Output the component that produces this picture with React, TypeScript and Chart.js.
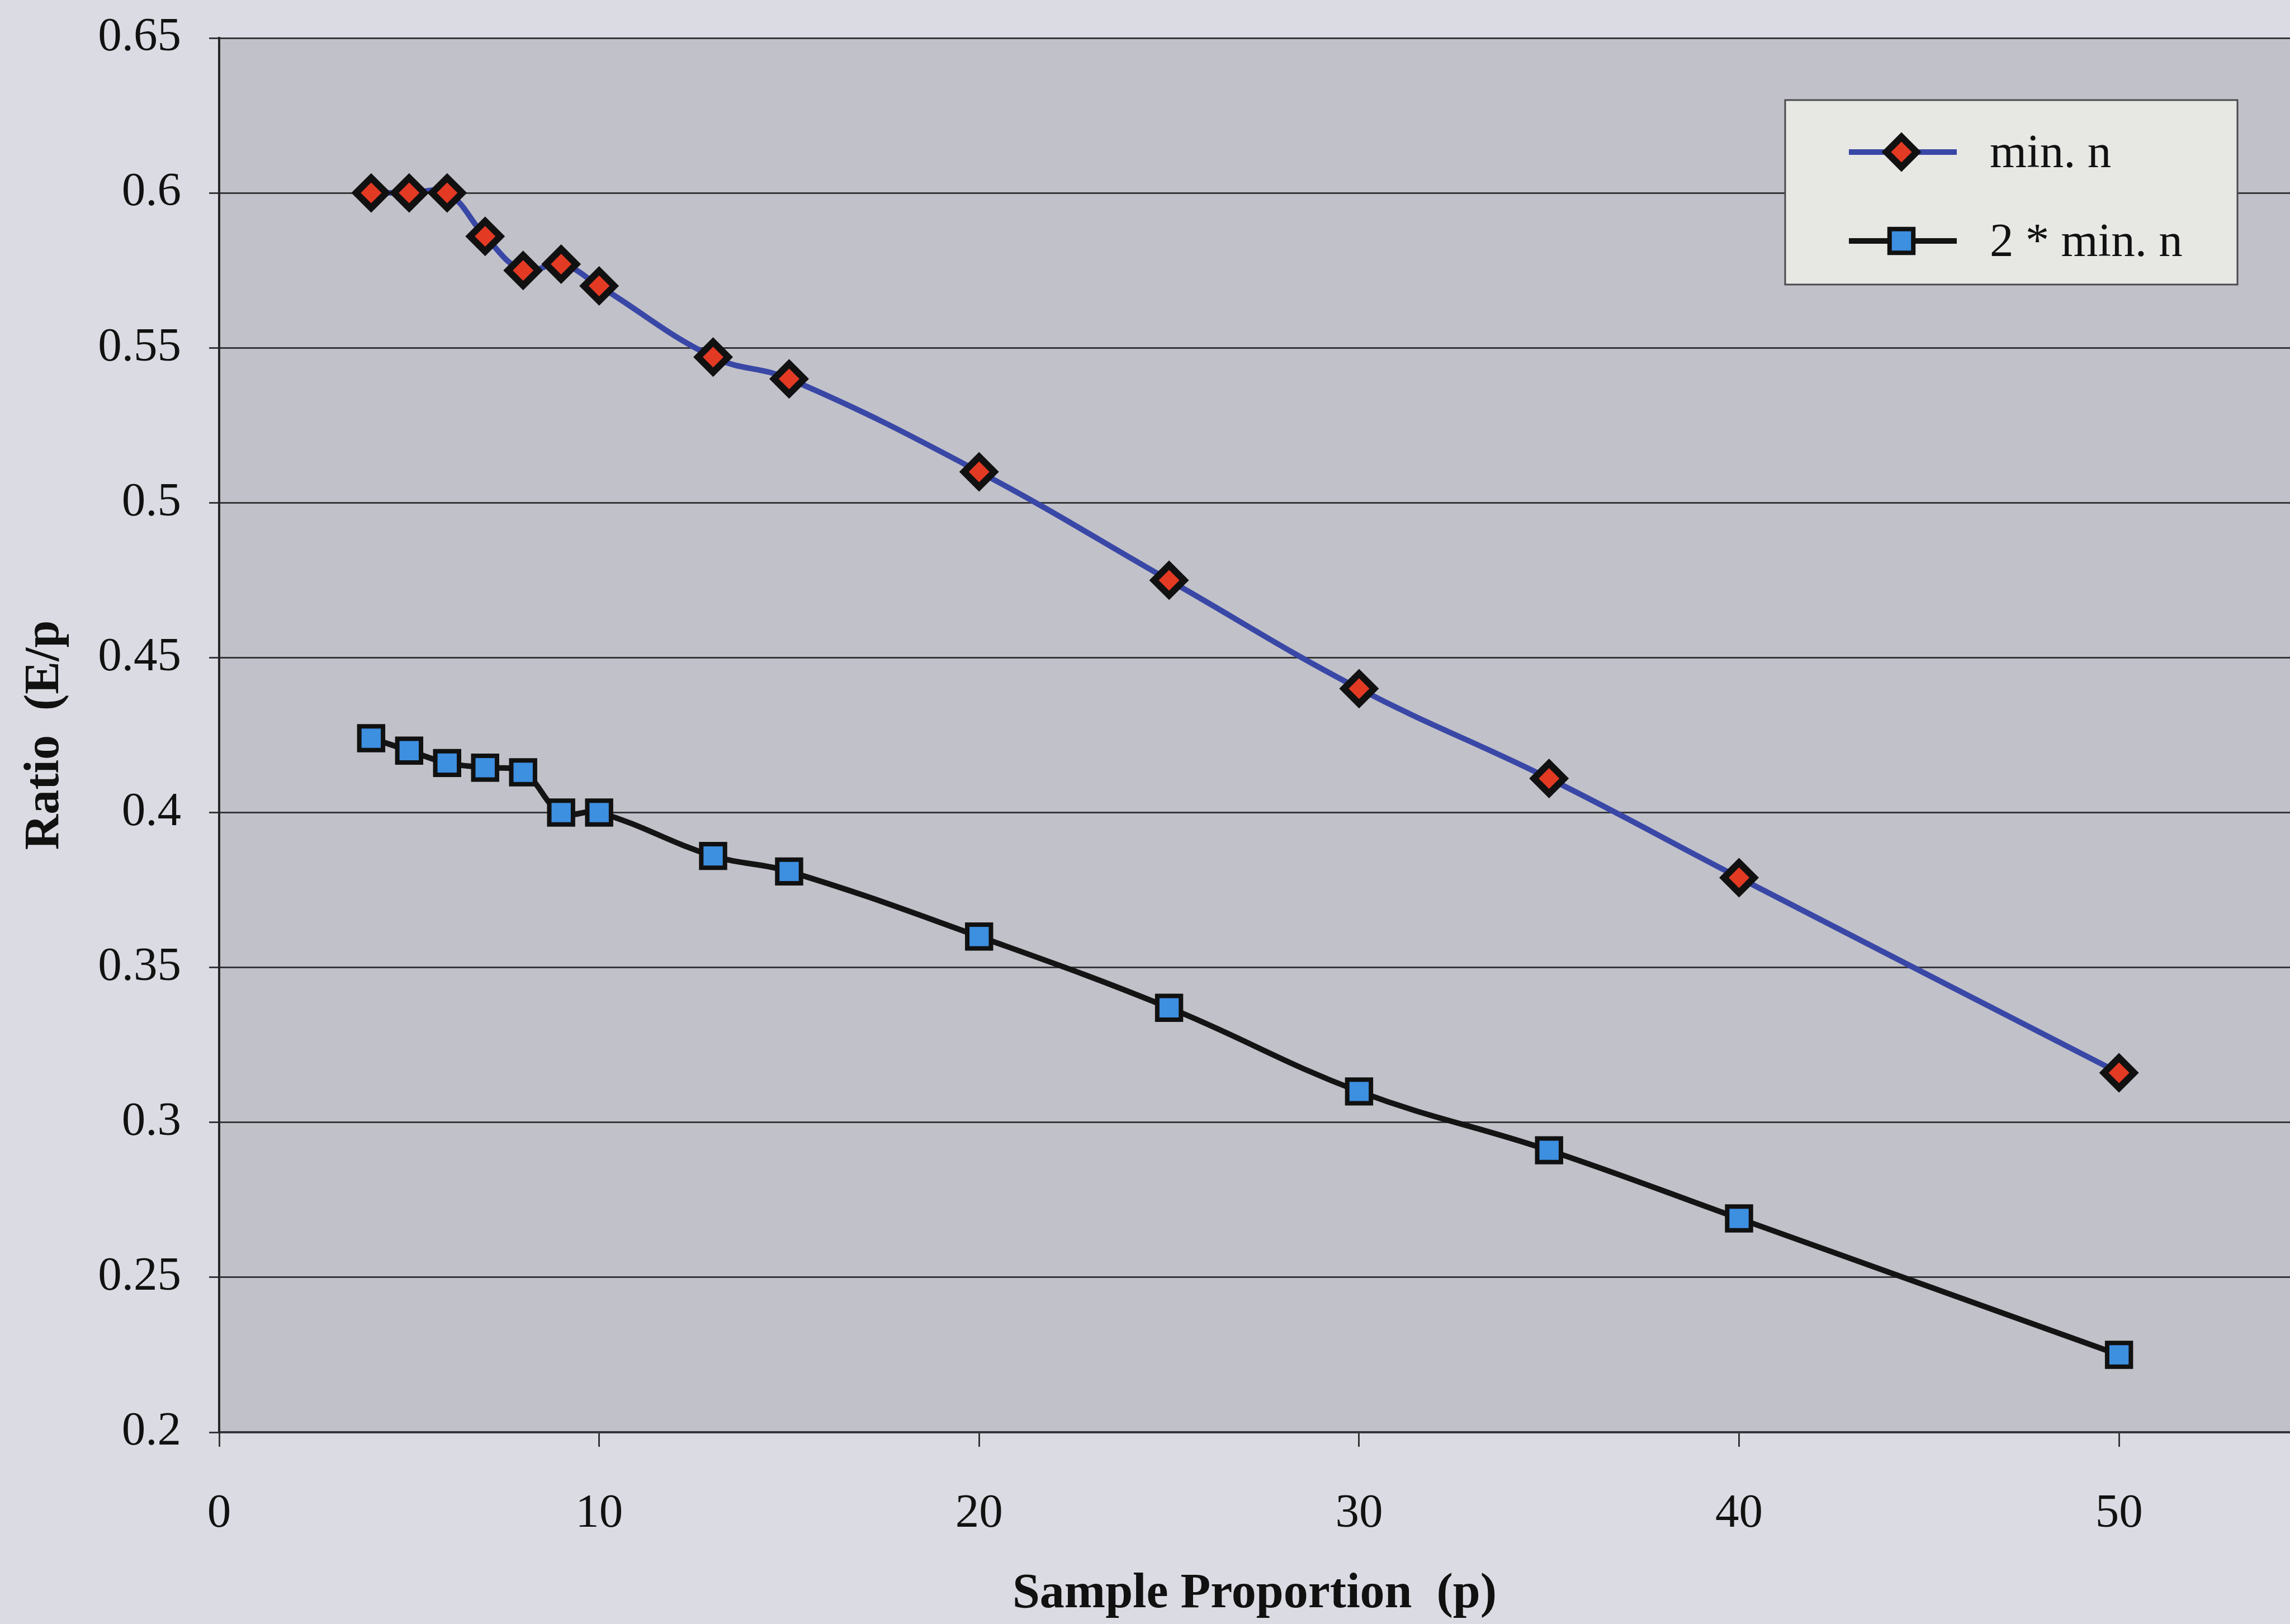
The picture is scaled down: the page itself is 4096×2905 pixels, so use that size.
import React, { useEffect, useRef } from 'react';
import { Chart, registerables } from 'chart.js';

Chart.register(...registerables);

// ---- data ----
const sampleProportion = [4, 5, 6, 7, 8, 9, 10, 13, 15, 20, 25, 30, 35, 40, 50];
const minN = [0.6, 0.6, 0.6, 0.586, 0.575, 0.577, 0.57, 0.547, 0.54, 0.51, 0.475, 0.44, 0.411, 0.379, 0.316];
const twoMinN = [0.424, 0.42, 0.416, 0.4145, 0.413, 0.4, 0.4, 0.386, 0.381, 0.36, 0.337, 0.31, 0.291, 0.269, 0.225];
const seriesLabels = ['min. n', '2 * min. n'];
const xAxisTitle = 'Sample Proportion  (p)';
const yAxisTitle = 'Ratio  (E/p';

// ---- styles ----
const PAGE_BG = '#dbdbe3';
const PLOT_BG = '#c1c1c9';
const LEGEND_BG = '#e7e8e4';
const GRID = '#36363a';
const BLUE_LINE = '#3947a6';
const BLACK_LINE = '#141414';
const RED_FILL = '#e33a24';
const SQ_FILL = '#3d8fe0';
const MARK_BORDER = '#111111';
const FONT = "'Liberation Serif', 'Times New Roman', serif";

const W = 4096;
const H = 2905;
const PLOT_LEFT = 392;
const PLOT_TOP = 68;
const PLOT_BOTTOM = 2562;

function drawDiamond(c: CanvasRenderingContext2D, x: number, y: number, r: number, bw: number) {
  c.beginPath();
  c.moveTo(x - r, y);
  c.lineTo(x, y - r);
  c.lineTo(x + r, y);
  c.lineTo(x, y + r);
  c.closePath();
  c.fillStyle = RED_FILL;
  c.fill();
  c.lineWidth = bw;
  c.strokeStyle = MARK_BORDER;
  c.stroke();
}

function drawSquare(c: CanvasRenderingContext2D, x: number, y: number, r: number, bw: number) {
  const s = r * Math.SQRT1_2;
  c.beginPath();
  c.rect(x - s, y - s, 2 * s, 2 * s);
  c.fillStyle = SQ_FILL;
  c.fill();
  c.lineWidth = bw;
  c.strokeStyle = MARK_BORDER;
  c.stroke();
}

export default function App() {
  const ref = useRef<HTMLCanvasElement>(null);

  useEffect(() => {
    document.body.style.margin = '0';
    document.body.style.background = PAGE_BG;
    document.body.style.overflow = 'hidden';
    const canvas = ref.current;
    if (!canvas) return;

    const bgPlugin = {
      id: 'bgPlugin',
      beforeDraw(chart: any) {
        const c = chart.ctx as CanvasRenderingContext2D;
        const a = chart.chartArea;
        c.save();
        c.fillStyle = PAGE_BG;
        c.fillRect(0, 0, chart.width, chart.height);
        c.fillStyle = PLOT_BG;
        c.fillRect(a.left, a.top, a.right - a.left, a.bottom - a.top);
        c.restore();
      },
    };

    const legendPlugin = {
      id: 'boxLegend',
      afterDraw(chart: any) {
        const c = chart.ctx as CanvasRenderingContext2D;
        c.save();
        const bx = 3193, by = 179, bw = 809, bh = 330;
        c.fillStyle = LEGEND_BG;
        c.fillRect(bx, by, bw, bh);
        c.lineWidth = 3;
        c.strokeStyle = '#4a4a4e';
        c.strokeRect(bx, by, bw, bh);
        const rows = [272, 431];
        const colors = [BLUE_LINE, BLACK_LINE];
        rows.forEach((ry, i) => {
          c.beginPath();
          c.moveTo(3307, ry);
          c.lineTo(3500, ry);
          c.lineWidth = 10;
          c.strokeStyle = colors[i];
          c.stroke();
          if (i === 0) drawDiamond(c, 3401, ry, 27, 12);
          else drawSquare(c, 3401, ry, 30, 8);
          c.fillStyle = '#111';
          c.font = `85px ${FONT}`;
          c.textAlign = 'left';
          c.textBaseline = 'alphabetic';
          c.fillText(seriesLabels[i], 3559, ry + 27);
        });
        c.restore();
      },
    };

    const chart = new Chart(canvas, {
      type: 'line',
      data: {
        datasets: [
          {
            label: seriesLabels[0],
            data: sampleProportion.map((x, i) => ({ x, y: minN[i] })),
            borderColor: BLUE_LINE,
            borderWidth: 10,
            tension: 0.4,
            fill: false,
            pointStyle: 'rectRot',
            pointRadius: 27,
            pointBackgroundColor: RED_FILL,
            pointBorderColor: MARK_BORDER,
            pointBorderWidth: 12,
          },
          {
            label: seriesLabels[1],
            data: sampleProportion.map((x, i) => ({ x, y: twoMinN[i] })),
            borderColor: BLACK_LINE,
            borderWidth: 10,
            tension: 0.4,
            fill: false,
            pointStyle: 'rect',
            pointRadius: 30,
            pointBackgroundColor: SQ_FILL,
            pointBorderColor: MARK_BORDER,
            pointBorderWidth: 8,
          },
        ],
      },
      options: {
        responsive: false,
        maintainAspectRatio: false,
        animation: false,
        events: [],
        layout: { autoPadding: false, padding: { top: PLOT_TOP, right: 0, bottom: 0, left: 0 } },
        plugins: {
          legend: { display: false },
          tooltip: { enabled: false },
          title: { display: false },
        },
        scales: {
          x: {
            type: 'linear',
            min: 0,
            max: 54.5,
            afterFit(scale: any) {
              scale.height = H - PLOT_BOTTOM;
              scale.paddingLeft = 0;
              scale.paddingRight = 0;
              scale.paddingTop = 0;
              scale.paddingBottom = 0;
            },
            ticks: {
              stepSize: 10,
              includeBounds: false,
              padding: 70,
              color: '#111',
              font: { family: FONT, size: 85 },
              maxRotation: 0,
            },
            grid: {
              drawOnChartArea: false,
              drawTicks: true,
              tickLength: 26,
              tickWidth: 3,
              tickColor: GRID,
            },
            border: { display: true, color: GRID, width: 4 },
            title: {
              display: true,
              text: xAxisTitle,
              color: '#111',
              font: { family: FONT, size: 88, weight: 'bold' },
              padding: { top: 0, bottom: 0 },
            },
          },
          y: {
            type: 'linear',
            min: 0.2,
            max: 0.65,
            afterFit(scale: any) {
              scale.width = PLOT_LEFT;
              scale.paddingTop = 0;
              scale.paddingBottom = 0;
              scale.paddingLeft = 0;
              scale.paddingRight = 0;
            },
            ticks: {
              stepSize: 0.05,
              padding: 50,
              color: '#111',
              font: { family: FONT, size: 85 },
              callback: (v: any) => String(Number(Number(v).toFixed(2))),
            },
            grid: {
              color: GRID,
              lineWidth: 3,
              tickLength: 18,
              drawTicks: true,
            },
            border: { display: true, color: '#262629', width: 4 },
            title: {
              display: true,
              text: yAxisTitle,
              color: '#111',
              font: { family: FONT, size: 88, weight: 'bold' },
              padding: { top: 28, bottom: 0 },
            },
          },
        },
      },
      plugins: [bgPlugin, legendPlugin],
    } as any);

    return () => chart.destroy();
  }, []);

  return (
    <canvas
      ref={ref}
      width={W}
      height={H}
      style={{ display: 'block', width: `${W}px`, height: `${H}px` }}
    />
  );
}
